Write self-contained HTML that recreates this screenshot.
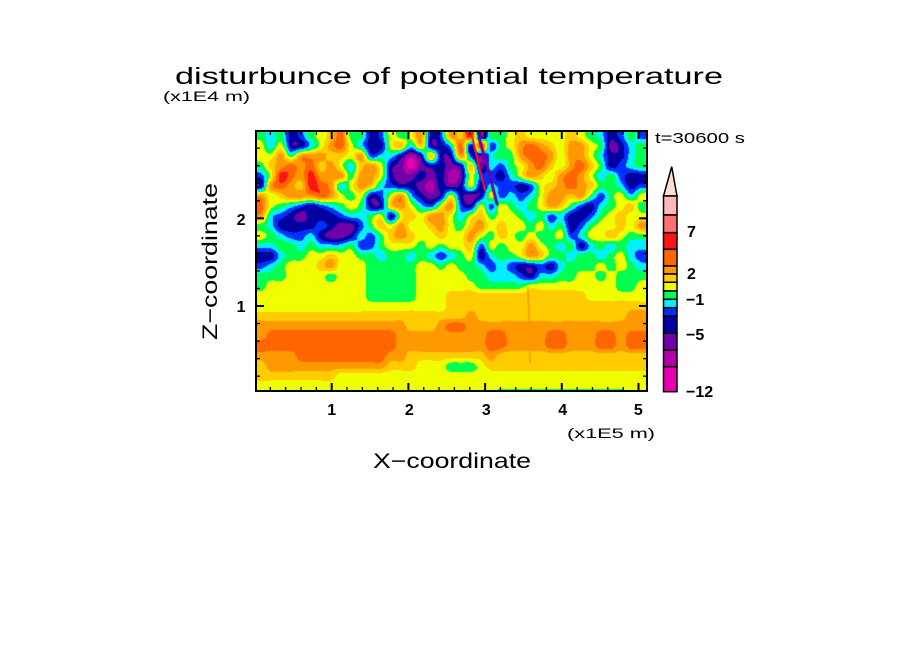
<!DOCTYPE html>
<html><head><meta charset="utf-8">
<style>
html,body{margin:0;padding:0;background:#fff;}
body{width:904px;height:654px;position:relative;overflow:hidden;}
#c{position:absolute;left:257px;top:132px;}
svg{position:absolute;left:0;top:0;}
text{font-family:"Liberation Sans",sans-serif;fill:#000;}
</style></head><body>
<canvas id="c" width="389" height="258"></canvas>
<svg width="904" height="654" viewBox="0 0 904 654" xmlns="http://www.w3.org/2000/svg">
<text x="175" y="84" font-size="23" textLength="548" lengthAdjust="spacingAndGlyphs">disturbunce of potential temperature</text>
<text x="163" y="101" font-size="14" textLength="87" lengthAdjust="spacingAndGlyphs">(x1E4 m)</text>
<text x="655" y="143" font-size="15" textLength="90" lengthAdjust="spacingAndGlyphs">t=30600 s</text>
<rect x="256" y="131" width="391" height="260" fill="none" stroke="#000" stroke-width="2"/>
<g id="ticks" stroke="#000"></g>
<g font-size="16" font-weight="bold" text-anchor="middle">
<text x="331.7" y="415">1</text><text x="409.3" y="415">2</text><text x="486.3" y="415">3</text><text x="562.7" y="415">4</text><text x="638.3" y="415">5</text>
</g>
<g font-size="16" font-weight="bold" text-anchor="end">
<text x="245.5" y="225">2</text><text x="245.5" y="312">1</text>
</g>
<text x="567" y="438" font-size="14" textLength="88" lengthAdjust="spacingAndGlyphs">(x1E5 m)</text>
<text x="373" y="468" font-size="21" textLength="158" lengthAdjust="spacingAndGlyphs">X−coordinate</text>
<text transform="translate(217,340) rotate(-90)" x="0" y="0" font-size="21" textLength="157" lengthAdjust="spacingAndGlyphs">Z−coordinate</text>
<g stroke="#000" stroke-width="1.5">
<polygon points="663.5,196 671.7,166.7 677,196" fill="#ffdcd6"/>
<rect x="663.5" y="196" width="13.5" height="19" fill="#ffb8b8"/>
<rect x="663.5" y="215" width="13.5" height="17.7" fill="#ff7070"/>
<rect x="663.5" y="232.7" width="13.5" height="16.6" fill="#ff1414"/>
<rect x="663.5" y="249.3" width="13.5" height="16.7" fill="#ff6600"/>
<rect x="663.5" y="266" width="13.5" height="8" fill="#ff9900"/>
<rect x="663.5" y="274" width="13.5" height="8.3" fill="#ffcc00"/>
<rect x="663.5" y="282.3" width="13.5" height="8.7" fill="#f0ff00"/>
<rect x="663.5" y="291" width="13.5" height="8.3" fill="#00ff50"/>
<rect x="663.5" y="299.3" width="13.5" height="8.4" fill="#00f0ff"/>
<rect x="663.5" y="307.7" width="13.5" height="8.3" fill="#0030ff"/>
<rect x="663.5" y="316" width="13.5" height="17.3" fill="#0000a0"/>
<rect x="663.5" y="333.3" width="13.5" height="16.7" fill="#7000a8"/>
<rect x="663.5" y="350" width="13.5" height="16.7" fill="#b000a8"/>
<rect x="663.5" y="366.7" width="13.5" height="25" fill="#e800b0"/>
</g>
<g font-size="16" font-weight="bold">
<text x="687" y="237">7</text>
<text x="687" y="279">2</text>
<text x="686" y="305">−1</text>
<text x="686" y="340">−5</text>
<text x="686" y="397">−12</text>
</g>
</svg>
<script>
(function(){
var rows=[
"65634678a663476793498b26678777787653464",
"75733579a75337858335a3b4679a98799762356",
"779699988794553138339425669aa9799753356",
"689a9a8975897320233238254679a879a863456",
"47ba9b999699732232312744357987 9a9756433".replace(/ /g,''),
"39a98ba957985433213237354434789a9866534",
"978999a97673479532373237454579989646757",
"a765434567633897547943747656798643567 86".replace(/ /g,''),
"954323334556737879975786776564533467877",
"653333432246879778976897877675634677879",
"765445322354689877877976876766745778766",
"556656555644677767677847677976563565655",
"335667787766566565456735667986656656754",
"456777897776666677676654543343566676765",
"666777767776666677777665554355667767666",
"677777777776666677777766666777777777667",
"777777777776666677788888888888888777777",
"777777777777777777788888888888888888888",
"888888888888888888888988888888888888899",
"9999999999999998889aa999999999999999999",
"9aaaaaaaaaaaaa999999999aa9999aa999aa9aa",
"aaaaaaaaaaaaaa999999999aa9999aa999aa9aa",
"9999aaaaaaaaa99888888889888888888888888",
"899999999999988877766678888888888888888",
"888888887777777777777777777777777777777",
"777777777777777777777777777777777777777",
"777777777777777777766777555555555555577"
];
var NI=39,NJ=rows.length;
var cols=[[232,0,176],[176,0,168],[112,0,168],[0,0,160],[0,48,255],[0,240,255],[0,255,80],[240,255,0],[255,204,0],[255,153,0],[255,102,0],[255,20,20],[255,112,112],[255,184,184]];
function val(i,j){if(i<0)i=0;if(i>NI-1)i=NI-1;if(j<0)j=0;if(j>NJ-1)j=NJ-1;var ch=rows[j].charAt(i);var v=parseInt(ch,16);return isNaN(v)?7:v;}
function cr(p0,p1,p2,p3,t){return 0.5*((2*p1)+(-p0+p2)*t+(2*p0-5*p1+4*p2-p3)*t*t+(-p0+3*p1-3*p2+p3)*t*t*t);}
var cv=document.getElementById('c');var ctx=cv.getContext('2d');
var W=cv.width,H=cv.height;var img=ctx.createImageData(W,H);var d=img.data;
for(var y=0;y<H;y++){
 var gy=(y+0.5-4)/10;var j=Math.floor(gy);var fy=gy-j;
 for(var x=0;x<W;x++){
  var gx=(x+0.5-4)/10;var i=Math.floor(gx);var fx=gx-i;
  var r=[];
  for(var m=-1;m<=2;m++){r.push(cr(val(i-1,j+m),val(i,j+m),val(i+1,j+m),val(i+2,j+m),fx));}
  var v=cr(r[0],r[1],r[2],r[3],fy);
  var k=Math.round(v);if(k<0)k=0;if(k>13)k=13;
  var c=cols[k];var p=(y*W+x)*4;
  d[p]=c[0];d[p+1]=c[1];d[p+2]=c[2];d[p+3]=255;
 }
}
ctx.putImageData(img,0,0);
ctx.lineCap='round';
ctx.strokeStyle='rgb(112,0,168)';ctx.lineWidth=3;
ctx.beginPath();ctx.moveTo(222,6);ctx.lineTo(232,40);ctx.lineTo(240,72);ctx.stroke();
ctx.strokeStyle='rgb(255,20,20)';ctx.lineWidth=2;
ctx.beginPath();ctx.moveTo(215,4);ctx.lineTo(221,30);ctx.lineTo(228,58);ctx.stroke();
ctx.strokeStyle='rgb(255,153,0)';ctx.lineWidth=1.5;
ctx.beginPath();ctx.moveTo(271,155);ctx.lineTo(273,230);ctx.stroke();
var g=document.getElementById('ticks');var s='';
for(var k2=1;k2<=25;k2++){var xx=255+15.34*k2;if(xx>646)break;var maj=(k2%5==0);var L=maj?8:4;var w=maj?2:1.3;
 s+='<line x1="'+xx+'" y1="391" x2="'+xx+'" y2="'+(391-L)+'" stroke-width="'+w+'"/>';
 s+='<line x1="'+xx+'" y1="131" x2="'+xx+'" y2="'+(131+L)+'" stroke-width="'+w+'"/>';}
for(var k3=1;k3<=14;k3++){var yy=393.7-17.54*k3;var maj2=(k3%5==0);var L2=maj2?8:4;var w2=maj2?2:1.3;
 s+='<line x1="256" y1="'+yy+'" x2="'+(256+L2)+'" y2="'+yy+'" stroke-width="'+w2+'"/>';
 s+='<line x1="647" y1="'+yy+'" x2="'+(647-L2)+'" y2="'+yy+'" stroke-width="'+w2+'"/>';}
g.innerHTML=s;
})();
</script>
</body></html>
